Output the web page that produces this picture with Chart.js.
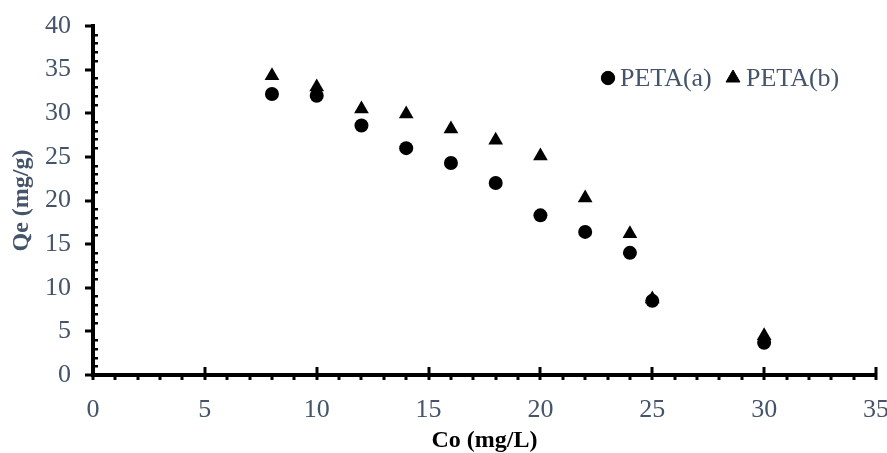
<!DOCTYPE html>
<html>
<head>
<meta charset="utf-8">
<script src="https://cdn.jsdelivr.net/npm/chart.js@4.4.1/dist/chart.umd.min.js"></script>
<style>
  html, body { margin: 0; padding: 0; background: #fff; }
  #wrap { width: 887px; height: 453px; }
</style>
</head>
<body>
<div id="wrap"><canvas id="chart"></canvas></div>
<script>
// Initial concentration Co (mg/L)
const coValues = [8, 10, 12, 14, 16, 18, 20, 22, 24, 25, 30];
// Equilibrium uptake Qe (mg/g)
const qeA = [32.2, 32.0, 28.6, 26.0, 24.3, 22.0, 18.3, 16.4, 14.0, 8.5, 3.7];
const qeB = [34.3, 33.0, 30.5, 29.9, 28.2, 26.9, 25.1, 20.3, 16.2, 8.7, 4.5];
const seriesNames = ['PETA(a)', 'PETA(b)'];

const FONT = '"Liberation Serif", "Times New Roman", serif';
const LABEL_COLOR = '#44546A';

const toPoints = ys => coValues.map((x, i) => ({ x, y: ys[i] }));

// axis ticks: majors every 5, minors every 1
const axisTicks = {
    id: 'axisTicks',
    afterDraw(chart) {
        const { ctx, chartArea: a, scales: { x, y } } = chart;
        ctx.save();
        ctx.fillStyle = '#000';
        // y axis: majors outward, minors inward
        for (let v = 0; v <= 40; v++) {
            const py = Math.round(y.getPixelForValue(v));
            if (v % 5 === 0) ctx.fillRect(a.left - 8, py - 1.5, 9, 3);
            else ctx.fillRect(a.left, py - 1, 5, 2.5);
        }
        // x axis: majors cross, minors outward
        for (let v = 0; v <= 35; v++) {
            const px = Math.round(x.getPixelForValue(v));
            if (v % 5 === 0) ctx.fillRect(px - 1.5, a.bottom - 8, 3, 13);
            else ctx.fillRect(px - 1.5, a.bottom, 3, 5);
        }
        ctx.restore();
    }
};

// inline legend, top right
const inlineLegend = {
    id: 'inlineLegend',
    afterDraw(chart) {
        const { ctx } = chart;
        const items = [
            { style: 'circle', r: 6.7, mx: 608, tx: 620 },
            { style: 'triangle', r: 8, mx: 733, tx: 746 }
        ];
        ctx.save();
        ctx.font = '26px ' + FONT;
        ctx.textBaseline = 'middle';
        ctx.textAlign = 'left';
        items.forEach((it, i) => {
            ctx.fillStyle = '#000';
            ctx.strokeStyle = '#000';
            ctx.lineWidth = 1;
            Chart.helpers.drawPoint(ctx, { pointStyle: it.style, radius: it.r, borderWidth: 1 }, it.mx, 78);
            ctx.fillStyle = LABEL_COLOR;
            ctx.fillText(seriesNames[i], it.tx, 79);
        });
        ctx.restore();
    }
};

new Chart(document.getElementById('chart'), {
    type: 'scatter',
    data: {
        datasets: [
            { label: seriesNames[0], data: toPoints(qeA), pointStyle: 'circle', pointRadius: 7, pointHoverRadius: 7,
              backgroundColor: '#000', borderColor: '#000', borderWidth: 0 },
            { label: seriesNames[1], data: toPoints(qeB), pointStyle: 'triangle', pointRadius: 8.5, pointHoverRadius: 8.5,
              backgroundColor: '#000', borderColor: '#000', borderWidth: 0 }
        ]
    },
    options: {
        responsive: true,
        maintainAspectRatio: false,
        animation: false,
        layout: { padding: { top: 26, right: 11, left: 0, bottom: 0 } },
        plugins: { legend: { display: false }, tooltip: { enabled: false } },
        scales: {
            x: {
                type: 'linear', min: 0, max: 35,
                afterFit: s => { s.height = 78; s.paddingLeft = 0; s.paddingRight = 0; },
                ticks: { stepSize: 5, color: LABEL_COLOR, font: { family: FONT, size: 26 }, padding: 12, maxRotation: 0 },
                grid: { display: false },
                border: { display: true, color: '#000', width: 4 },
                title: { display: true, text: 'Co (mg/L)', color: '#000', font: { family: FONT, size: 24, weight: 'bold', lineHeight: 1 }, padding: { top: 0, bottom: 0 } }
            },
            y: {
                type: 'linear', min: 0, max: 40,
                afterFit: s => { s.width = 93; s.paddingTop = 0; s.paddingBottom = 0; },
                ticks: { stepSize: 5, color: LABEL_COLOR, font: { family: FONT, size: 26 }, padding: 14 },
                grid: { display: false },
                border: { display: true, color: '#000', width: 4 },
                title: { display: true, text: 'Qe (mg/g)', color: LABEL_COLOR, font: { family: FONT, size: 24, weight: 'bold' }, padding: { top: 7, bottom: 0 } }
            }
        }
    },
    plugins: [axisTicks, inlineLegend]
});
</script>
</body>
</html>
